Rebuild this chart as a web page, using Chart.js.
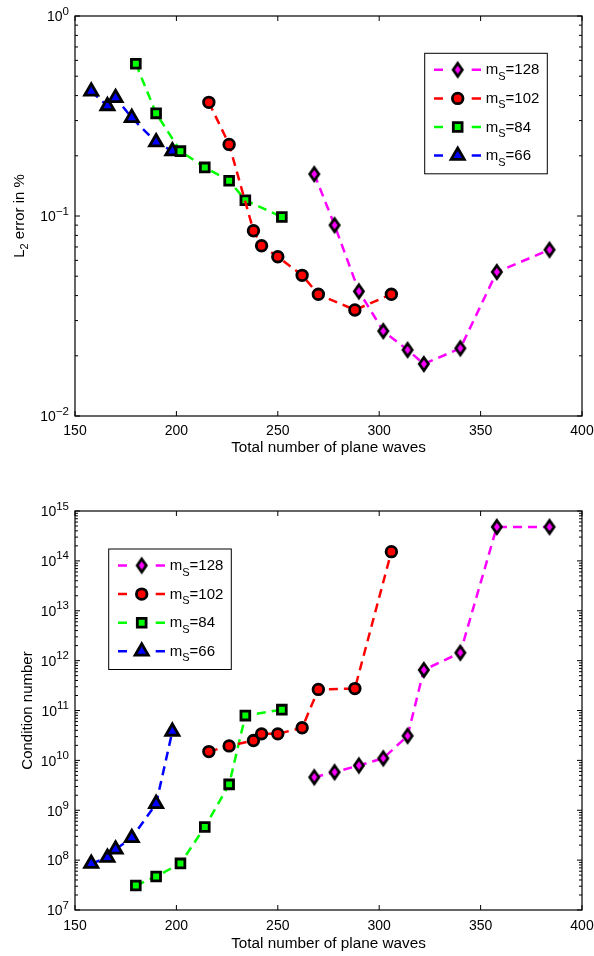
<!DOCTYPE html>
<html>
<head>
<meta charset="utf-8">
<script src="https://cdn.jsdelivr.net/npm/chart.js@4.4.0/dist/chart.umd.min.js"></script>
<style>
body { margin: 0; background: #fff; }
canvas { display: block; }
</style>
</head>
<body>
<canvas id="errorChart" width="594" height="478"></canvas>
<canvas id="condChart" width="594" height="478"></canvas>
<script>
// series: m_S = 128, 102, 84, 66
var seriesLabels = ['128', '102', '84', '66'];
var x128 = [268, 278, 290, 302, 314, 322, 340, 358, 384];
var x102 = [216, 226, 238, 242, 250, 262, 270, 288, 306];
var x84 = [180, 190, 202, 214, 226, 234, 252];
var x66 = [158, 166, 170, 178, 190, 198];

// L2 error in %
var err128 = [0.162, 0.090, 0.042, 0.0266, 0.0214, 0.0182, 0.0218, 0.0525, 0.0678];
var err102 = [0.370, 0.228, 0.0844, 0.0710, 0.0626, 0.0505, 0.0406, 0.0339, 0.0406];
var err84 = [0.577, 0.326, 0.211, 0.175, 0.150, 0.120, 0.0989];
var err66 = [0.42, 0.355, 0.39, 0.31, 0.234, 0.211];

// condition number
var cond128 = [4.6e9, 5.8e9, 7.9e9, 1.1e10, 3.1e10, 6.5e11, 1.44e12, 4.8e14, 4.8e14];
var cond102 = [1.5e10, 1.95e10, 2.5e10, 3.4e10, 3.4e10, 4.5e10, 2.65e11, 2.75e11, 1.53e14];
var cond84 = [3.1e7, 4.7e7, 8.6e7, 4.6e8, 3.3e9, 7.9e10, 1.04e11];
var cond66 = [8.5e7, 1.12e8, 1.65e8, 2.8e8, 1.35e9, 3.8e10];

var xTicks = [150, 200, 250, 300, 350, 400];
var errDecades = [-2, -1, 0];
var condDecades = [7, 8, 9, 10, 11, 12, 13, 14, 15];

var xsAll = [x128, x102, x84, x66];
var colors = ['#ff00ff', '#ff0000', '#00ff00', '#0000ff'];

// matlab style diamond is taller than wide, so make it as a small canvas
function makeDiamond(fill) {
    var c = document.createElement('canvas');
    c.width = 18; c.height = 22;
    var g = c.getContext('2d');
    g.beginPath();
    g.moveTo(9, 11 - 6.6); g.lineTo(9 + 4.6, 11); g.lineTo(9, 11 + 6.6); g.lineTo(9 - 4.6, 11);
    g.closePath();
    g.fillStyle = fill; g.fill();
    g.lineWidth = 2.7; g.strokeStyle = '#000'; g.stroke();
    return c;
}
var styles = [makeDiamond('#ff00ff'), 'circle', 'rect', 'triangle'];
var radii = [7, 5.3, 6.2, 7.6];
var markerBorder = 2.8;

Chart.defaults.font.family = "'Liberation Sans', Arial, sans-serif";
Chart.defaults.color = '#000';

function drawSub(ctx, parts, x, y) {
    // parts: [text, size, dy]
    parts.forEach(function(p) {
        ctx.font = p[1] + "px 'Liberation Sans', Arial, sans-serif";
        ctx.fillText(p[0], x, y + p[2]);
        x += ctx.measureText(p[0]).width;
    });
}

function partsWidth(ctx, parts) {
    var w = 0;
    parts.forEach(function(p) {
        ctx.font = p[1] + "px 'Liberation Sans', Arial, sans-serif";
        w += ctx.measureText(p[0]).width;
    });
    return w;
}

var axesPlugin = {
    id: 'matlabAxes',
    beforeDatasetsDraw: function(chart, args, opts) {
        var ctx = chart.ctx, a = chart.chartArea;
        var xs = chart.scales.x, ys = chart.scales.y;
        ctx.save();
        ctx.strokeStyle = '#000';
        ctx.lineWidth = 1;
        ctx.beginPath();
        xTicks.forEach(function(v) {
            var px = xs.getPixelForValue(v);
            ctx.moveTo(px, a.bottom); ctx.lineTo(px, a.bottom - 5);
            ctx.moveTo(px, a.top); ctx.lineTo(px, a.top + 5);
        });
        opts.decades.forEach(function(d, i) {
            var py = ys.getPixelForValue(Math.pow(10, d));
            ctx.moveTo(a.left, py); ctx.lineTo(a.left + 5, py);
            ctx.moveTo(a.right, py); ctx.lineTo(a.right - 5, py);
            if (i < opts.decades.length - 1) {
                for (var m = 2; m <= 9; m++) {
                    var pm = ys.getPixelForValue(m * Math.pow(10, d));
                    ctx.moveTo(a.left, pm); ctx.lineTo(a.left + 3, pm);
                    ctx.moveTo(a.right, pm); ctx.lineTo(a.right - 3, pm);
                }
            }
        });
        ctx.stroke();

        // y tick labels 10^k
        ctx.fillStyle = '#000';
        ctx.textBaseline = 'alphabetic';
        ctx.textAlign = 'left';
        opts.decades.forEach(function(d) {
            var py = ys.getPixelForValue(Math.pow(10, d));
            var ex = d < 0 ? '\u2212' + (-d) : String(d);
            var parts = [['10', 14, 5.3], [ex, 11.5, -1.5]];
            var w = partsWidth(ctx, parts);
            drawSub(ctx, parts, 69 - w, py);
        });

        // y title
        ctx.save();
        ctx.translate(opts.titleX, (a.top + a.bottom) / 2);
        ctx.rotate(-Math.PI / 2);
        var tw = partsWidth(ctx, opts.title);
        drawSub(ctx, opts.title, -tw / 2, 5);
        ctx.restore();
        ctx.restore();
    },
    afterDatasetsDraw: function(chart, args, opts) {
        var ctx = chart.ctx, a = chart.chartArea;
        ctx.save();
        ctx.strokeStyle = '#000';
        ctx.lineWidth = 1.2;
        ctx.strokeRect(a.left, a.top, a.right - a.left, a.bottom - a.top);

        // legend
        var lx = a.left + opts.legendDx, ly = a.top + opts.legendDy;
        ctx.fillStyle = '#fff';
        ctx.fillRect(lx, ly, 122.6, 120.5);
        ctx.lineWidth = 1;
        ctx.strokeRect(lx, ly, 122.6, 120.5);
        seriesLabels.forEach(function(lab, i) {
            var ry = ly + 16.5 + i * 28.6;
            ctx.strokeStyle = colors[i];
            ctx.lineWidth = 2.5;
            ctx.setLineDash([]);
            ctx.beginPath();
            ctx.moveTo(lx + 9.3, ry); ctx.lineTo(lx + 18.3, ry);
            ctx.moveTo(lx + 47, ry); ctx.lineTo(lx + 56.3, ry);
            ctx.stroke();
            ctx.fillStyle = colors[i];
            ctx.strokeStyle = '#000';
            ctx.lineWidth = markerBorder;
            Chart.helpers.drawPoint(ctx, {pointStyle: styles[i], radius: radii[i], rotation: 0, borderWidth: markerBorder}, lx + 33, ry);
            ctx.fillStyle = '#000';
            drawSub(ctx, [['m', 15, 0], ['S', 11, 5.5], ['=' + lab, 15, 0]], lx + 61, ry + 4.5);
        });
        ctx.restore();
    }
};

function makeChart(id, yData, yMin, yMax, cfg) {
    var datasets = seriesLabels.map(function(lab, i) {
        return {
            label: 'mS=' + lab,
            data: xsAll[i].map(function(x, j) { return {x: x, y: yData[i][j]}; }),
            borderColor: colors[i],
            backgroundColor: colors[i],
            borderWidth: 2.5,
            borderDash: [9, 6],
            pointStyle: styles[i],
            pointRadius: radii[i],
            pointBorderColor: '#000',
            pointBackgroundColor: colors[i],
            pointBorderWidth: markerBorder,
            showLine: true,
            tension: 0,
            clip: false
        };
    });
    return new Chart(document.getElementById(id), {
        type: 'scatter',
        data: {datasets: datasets},
        options: {
            responsive: false,
            animation: false,
            events: [],
            layout: {padding: {top: cfg.top, right: 12, left: 0, bottom: 0}},
            plugins: {
                legend: {display: false},
                tooltip: {enabled: false},
                matlabAxes: {decades: cfg.decades, title: cfg.title, titleX: cfg.titleX,
                             legendDx: cfg.legendDx, legendDy: cfg.legendDy}
            },
            scales: {
                x: {
                    type: 'linear', min: 150, max: 400,
                    afterBuildTicks: function(s) { s.ticks = xTicks.map(function(v) { return {value: v}; }); },
                    grid: {display: false, drawTicks: false},
                    border: {display: false},
                    ticks: {padding: cfg.tickPad, font: {size: 14}, color: '#000', maxRotation: 0, autoSkip: false},
                    title: {display: true, text: 'Total number of plane waves', font: {size: 15.3},
                            padding: {top: 0, bottom: cfg.titlePad}},
                    afterFit: function(s) {
                        s.height = cfg.xHeight;
                        s.paddingLeft = 0;
                        s.paddingRight = 0;
                    }
                },
                y: {
                    type: 'logarithmic', min: yMin, max: yMax,
                    ticks: {display: false},
                    grid: {display: false},
                    border: {display: false},
                    afterFit: function(s) {
                        s.width = 75;
                        s.paddingTop = 0;
                        s.paddingBottom = 0;
                    }
                }
            }
        },
        plugins: [axesPlugin]
    });
}

makeChart('errorChart', [err128, err102, err84, err66], 1e-2, 1, {
    top: 16, xHeight: 62, titlePad: 21, tickPad: 7, decades: errDecades, titleX: 19,
    title: [['L', 15, 0], ['2', 11, 4], [' error in %', 15, 0]],
    legendDx: 349.7, legendDy: 37.3
});

makeChart('condChart', [cond128, cond102, cond84, cond66], 1e7, 1e15, {
    top: 33, xHeight: 46, titlePad: 3.5, tickPad: 8, decades: condDecades, titleX: 27,
    title: [['Condition number', 15, 0]],
    legendDx: 33.7, legendDy: 38
});
</script>
</body>
</html>
